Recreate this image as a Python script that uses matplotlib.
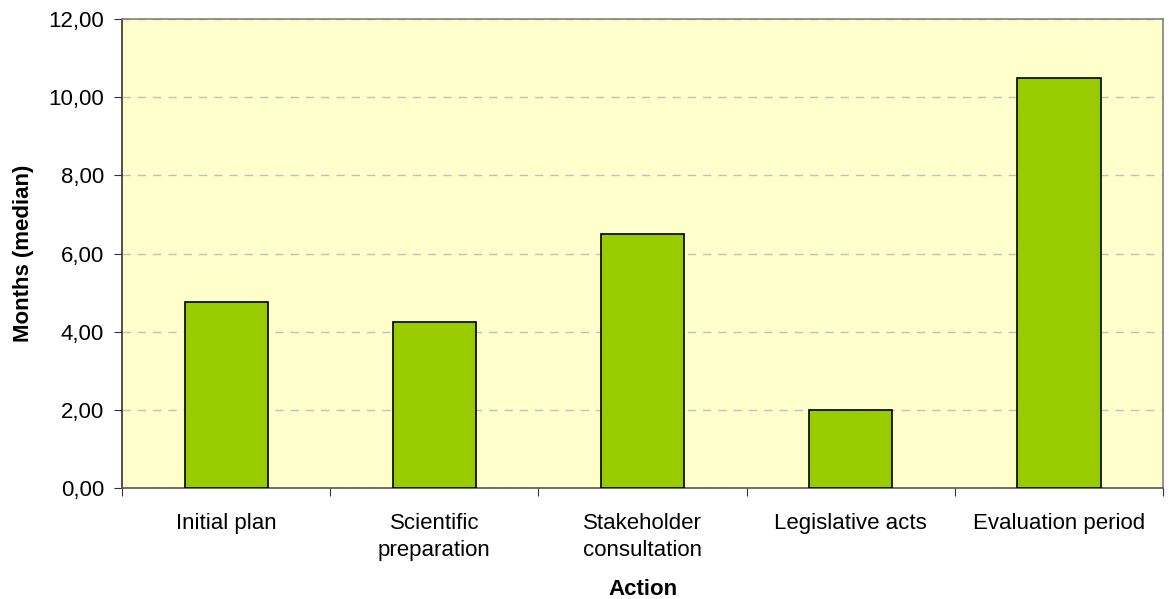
import numpy as np
from matplotlib import pyplot as plt
import matplotlib.ticker as mtick

plt.rcParams['font.family'] = ['Liberation Sans', 'DejaVu Sans']

actions = ["Initial plan", "Scientific\npreparation", "Stakeholder\nconsultation",
           "Legislative acts", "Evaluation period"]
months = [4.75, 4.25, 6.5, 2.0, 10.5]

fig = plt.figure(figsize=(11.69, 5.99), dpi=100)
ax = fig.add_axes([0.1044, 0.1853, 0.8906, 0.7827])
ax.set_facecolor('#FFFFCC')

x = np.arange(len(actions))
ax.bar(x, months, width=0.4, color='#99CC00', edgecolor='black', linewidth=1.2, zorder=3)

ax.set_xlim(-0.5, len(actions) - 0.5)
ax.set_ylim(0, 12)
ax.yaxis.set_major_locator(mtick.MultipleLocator(2))
ax.yaxis.set_major_formatter(mtick.FuncFormatter(lambda v, p: f"{v:.2f}".replace('.', ',')))
ax.yaxis.grid(True, color='#c0c0c0', linestyle=(0, (6, 5)), linewidth=1, zorder=0)

# category boundaries get tick marks, names sit between them
ax.set_xticks(np.arange(-0.5, len(actions), 1.0))
ax.set_xticklabels([])
ax.set_xticks(x, minor=True)
ax.set_xticklabels(actions, minor=True, linespacing=1.35)
ax.tick_params(axis='x', which='minor', length=0, pad=18, labelsize=16)
ax.tick_params(axis='x', which='major', length=6, color='#333333')
ax.tick_params(axis='y', length=6, pad=7, labelsize=16, color='#333333')

for s in ['top', 'right']:
    ax.spines[s].set_color('#808080')
ax.spines['left'].set_color('#333333')
ax.spines['bottom'].set_color('#555555')
for s in ax.spines.values():
    s.set_linewidth(1.2)

ax.set_ylabel("Months (median)", fontsize=16, fontweight='bold', labelpad=10)
ax.set_xlabel("Action", fontsize=16, fontweight='bold', labelpad=13)

fig.savefig("out.png", dpi=100)
